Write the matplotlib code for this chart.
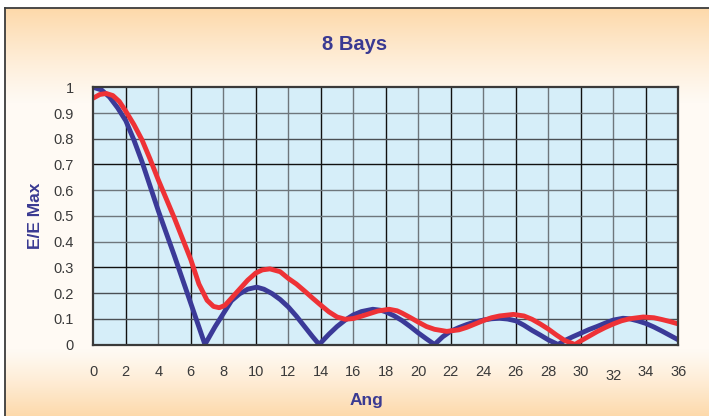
import numpy as np
import matplotlib
matplotlib.use("Agg")
import matplotlib.pyplot as plt
from matplotlib.lines import Line2D

# ---- data ----
blue_x = [0, 0.5, 1, 1.5, 2, 2.5, 3, 3.5, 4, 5, 6, 6.87, 7.5, 8, 8.5, 9, 9.5, 10.05,
          10.5, 11, 11.5, 12, 12.5, 13, 13.5, 13.9, 14.5, 15, 15.5, 16, 16.5, 17.2,
          17.7, 18, 18.5, 19, 19.5, 20, 20.5, 21, 21.5, 22, 22.5, 23, 23.5, 24, 24.5,
          25, 25.5, 26, 26.5, 27, 27.5, 28, 28.6, 29, 29.5, 30, 30.5, 31, 31.5, 32,
          32.6, 33, 33.5, 34, 34.5, 35, 35.5, 36]
blue_y = [1.0, 0.99, 0.962, 0.92, 0.87, 0.795, 0.71, 0.615, 0.52, 0.343, 0.16, 0.0, 0.07, 0.12, 0.17, 0.197, 0.215, 0.223,
          0.215, 0.198, 0.175, 0.146, 0.11, 0.07, 0.03, 0.0, 0.04, 0.07, 0.095, 0.115, 0.128, 0.137,
          0.133, 0.127, 0.112, 0.093, 0.07, 0.045, 0.022, 0.0, 0.03, 0.052, 0.066, 0.078, 0.088, 0.095, 0.1,
          0.102, 0.099, 0.092, 0.075, 0.055, 0.037, 0.018, 0.0, 0.015, 0.03, 0.044, 0.058, 0.07, 0.083, 0.095,
          0.102, 0.1, 0.092, 0.082, 0.068, 0.052, 0.035, 0.018]

red_x = [0, 0.4, 0.8, 1.2, 1.6, 2, 2.5, 3, 3.5, 4, 4.5, 5, 5.5, 6, 6.5, 7, 7.4, 7.75, 8.1,
         8.5, 9, 9.5, 10, 10.4, 10.87, 11.5, 12, 12.5, 13, 13.5, 14, 14.5, 15, 15.5, 16,
         16.5, 17, 17.5, 18.2, 18.7, 19, 19.5, 20, 20.5, 21, 21.75, 22.5, 23, 23.5, 24,
         24.5, 25, 25.85, 26.5, 27, 27.5, 28, 28.5, 29, 29.64, 30, 30.5, 31, 31.5, 32,
         32.5, 33, 33.85, 34.5, 35, 35.5, 36]
red_y = [0.958, 0.972, 0.976, 0.968, 0.945, 0.907, 0.855, 0.795, 0.72, 0.64, 0.565, 0.49, 0.41, 0.33, 0.235, 0.172, 0.148, 0.143, 0.152,
         0.18, 0.215, 0.25, 0.278, 0.29, 0.294, 0.283, 0.257, 0.235, 0.208, 0.18, 0.153, 0.127, 0.107, 0.098, 0.101,
         0.11, 0.12, 0.13, 0.137, 0.131, 0.122, 0.105, 0.087, 0.07, 0.059, 0.051, 0.057, 0.067, 0.08, 0.093,
         0.104, 0.111, 0.117, 0.111, 0.098, 0.08, 0.06, 0.037, 0.016, 0.0, 0.014, 0.032, 0.05, 0.066, 0.08,
         0.092, 0.1, 0.107, 0.104, 0.097, 0.089, 0.08]

x_ticks = list(range(0, 37, 2))
x_tick_labels = [str(v) for v in x_ticks]
y_ticks = [round(0.1 * i, 1) for i in range(11)]
y_tick_labels = ["0", "0.1", "0.2", "0.3", "0.4", "0.5", "0.6", "0.7", "0.8", "0.9", "1"]

title = "8 Bays"
x_label = "Ang"
y_label = "E/E Max"

# ---- style ----
NARROW = ["Liberation Sans Narrow", "Liberation Sans", "DejaVu Sans"]
TITLE_BLUE = "#3a3a92"
BLUE = "#3b3a98"
RED = "#ee3236"

W, H = 709, 416
fig = plt.figure(figsize=(W / 100, H / 100), dpi=100)
fig.patch.set_facecolor("white")

# gradient background inside frame
bg = fig.add_axes([5 / W, 0, 1 - 5 / W, (H - 8) / H], zorder=-10)
n = 408
ys = np.arange(n)  # 0 = top (y=8 px)
top_frac = np.clip(1 - ys / 95.0, 0, 1)
bot_frac = np.clip((ys - 340) / 68.0, 0, 1)
frac = np.maximum(top_frac ** 1.2, bot_frac ** 1.2)
c_peach = np.array([253, 217, 170]) / 255
c_white = np.array([255, 250, 244]) / 255
img = c_white[None, :] * (1 - frac[:, None]) + c_peach[None, :] * frac[:, None]
bg.imshow(img[:, None, :], aspect="auto", extent=[0, 1, 0, 1])
bg.set_axis_off()

# frame lines (left and top)
fig.add_artist(Line2D([5 / W, 5 / W], [0, (H - 8) / H], color="#3c3c3c", lw=1.3,
                      transform=fig.transFigure))
fig.add_artist(Line2D([5 / W, 1], [(H - 8) / H, (H - 8) / H], color="#3c3c3c", lw=1.3,
                      transform=fig.transFigure))

left, right = 93.3, 678.3
top, bottom = 87.3, 344.5
ax = fig.add_axes([left / W, (H - bottom) / H, (right - left) / W, (bottom - top) / H])
ax.set_facecolor("#d6eef9")
ax.set_xlim(0, 36)
ax.set_ylim(0, 1)

# grid lines
for xv in x_ticks[1:-1]:
    col = "#111111" if xv % 4 == 2 else "#6e767c"
    ax.axvline(xv, color=col, lw=1.0, zorder=1)
for i, yv in enumerate(y_ticks[1:-1], start=1):
    col = "#111111" if i in (3, 7) else ("#4a4f54" if i in (1, 2, 8) else "#6e767c")
    ax.axhline(yv, color=col, lw=1.0, zorder=1)

ax.plot(blue_x, blue_y, color=BLUE, lw=3.5, solid_joinstyle="round",
        solid_capstyle="round", zorder=3, clip_on=True)
ax.plot(red_x, red_y, color=RED, lw=3.5, solid_joinstyle="round",
        solid_capstyle="round", zorder=4, clip_on=True)

for s in ax.spines.values():
    s.set_color("#3a3a3a")
    s.set_linewidth(1.6)
    s.set_zorder(5)

ax.set_xticks(x_ticks)
ax.set_xticklabels(x_tick_labels, family=NARROW, fontsize=10.5, color="#3a3a3a")
ax.set_yticks(y_ticks)
ax.set_yticklabels(y_tick_labels, family=NARROW, fontsize=10.5, color="#3a3a3a")
ax.tick_params(axis="both", length=0)
ax.tick_params(axis="x", pad=15)
ax.tick_params(axis="y", pad=14)
# the "32" label sits slightly lower in the reference
for tk in ax.xaxis.get_major_ticks():
    if tk.label1.get_text() == "32":
        tk.set_pad(18)

fig.text(355 / W, 1 - 45 / H, title, ha="center", va="center", family=NARROW,
         fontsize=14.5, fontweight="bold", color=TITLE_BLUE)
fig.text(367 / W, 1 - 400 / H, x_label, ha="center", va="center", family=NARROW,
         fontsize=12.5, fontweight="bold", color=TITLE_BLUE)
fig.text(35 / W, 1 - 216 / H, y_label, ha="center", va="center", rotation=90,
         family=NARROW, fontsize=12.5, fontweight="bold", color=TITLE_BLUE)

fig.savefig("out.png", dpi=100)
